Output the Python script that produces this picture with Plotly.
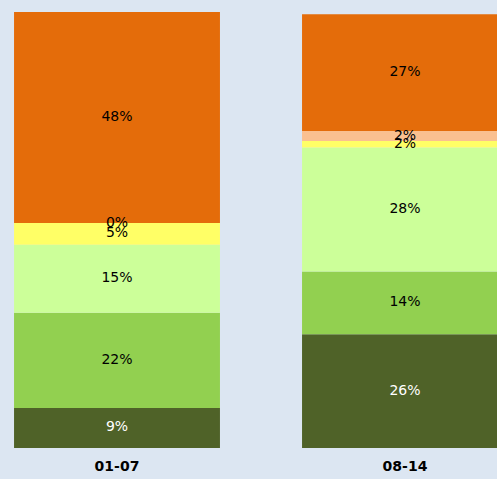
import numpy as np
import plotly.graph_objects as go

categories = ["01-07", "08-14"]
series_names = ["s1", "s2", "s3", "s4", "s5", "s6"]
values = {
    "s1": [9.2, 26.1],
    "s2": [21.8, 14.4],
    "s3": [15.6, 28.4],
    "s4": [5.0, 1.5],
    "s5": [0.0, 2.3],
    "s6": [48.4, 26.8],
}
labels = {
    "s1": ["9%", "26%"],
    "s2": ["22%", "14%"],
    "s3": ["15%", "28%"],
    "s4": ["5%", "2%"],
    "s5": ["0%", "2%"],
    "s6": ["48%", "27%"],
}
colors = {
    "s1": "#4f6228",
    "s2": "#92d050",
    "s3": "#ccff99",
    "s4": "#ffff66",
    "s5": "#fac090",
    "s6": "#e46c0a",
}
text_colors = {
    "s1": "#ffffff",
    "s2": "#000000",
    "s3": "#000000",
    "s4": "#000000",
    "s5": "#000000",
    "s6": "#000000",
}

fig = go.Figure()
x_idx = np.arange(len(categories))
base = np.zeros(len(categories))
for name in series_names:
    v = np.array(values[name])
    fig.add_trace(go.Bar(
        x=x_idx, y=v, base=base, width=0.715,
        marker=dict(color=colors[name], line=dict(width=0)),
        showlegend=False, hoverinfo="skip",
    ))
    fig.add_trace(go.Scatter(
        x=x_idx, y=base + v / 2, mode="text", text=labels[name],
        textfont=dict(family="DejaVu Sans", size=14, color=text_colors[name]),
        showlegend=False, hoverinfo="skip",
    ))
    base = base + v

W, H = 497, 479
fig.update_layout(
    width=W, height=H,
    margin=dict(l=0, r=0, t=0, b=31),
    paper_bgcolor="#dce6f2", plot_bgcolor="#dce6f2",
    barmode="overlay",
    xaxis=dict(
        range=[-117 / 288, -117 / 288 + W / 288],
        tickvals=list(x_idx), ticktext=categories,
        showgrid=False, zeroline=False, showline=False,
        tickfont=dict(family="DejaVu Sans", size=14, color="#000000", weight="bold"),
        ticks="", ticklabelstandoff=8,
    ),
    yaxis=dict(
        range=[0, 448 / 436 * 100],
        visible=False, showgrid=False, zeroline=False,
    ),
)
fig.write_html("out.html")
